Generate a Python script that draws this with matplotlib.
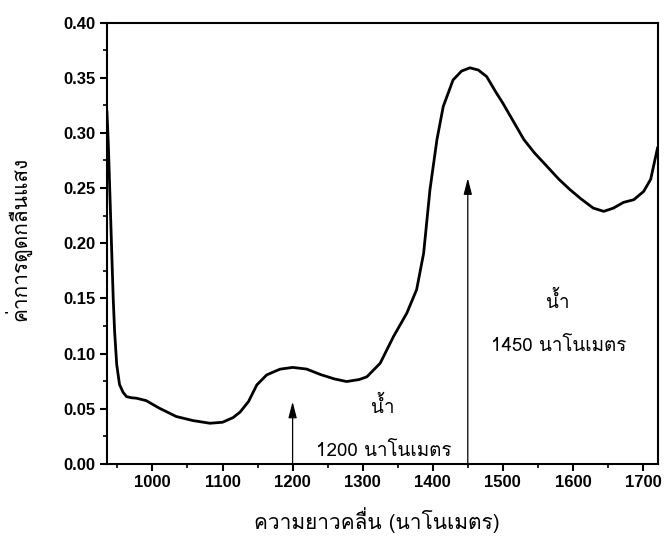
import matplotlib
matplotlib.use('Agg')
import matplotlib.pyplot as plt
from matplotlib.ticker import MultipleLocator

# NIR absorbance spectrum, water bands marked at 1200 and 1450 nm
wavelength = [935, 937, 939, 942, 944, 946, 949, 953, 958, 963, 970, 977, 991,
              1010, 1034, 1058, 1082, 1100, 1115, 1125, 1137, 1149, 1163, 1182,
              1200, 1220, 1240, 1260, 1277, 1295, 1306, 1325, 1344, 1363, 1377,
              1387, 1396, 1406, 1415, 1429, 1441, 1453, 1465, 1477, 1490, 1500,
              1510, 1520, 1530, 1545, 1563, 1580, 1596, 1612, 1629, 1644, 1658,
              1672, 1687, 1701, 1711, 1721]
absorbance = [0.320, 0.290, 0.250, 0.190, 0.150, 0.120, 0.090, 0.072, 0.065,
              0.061, 0.060, 0.0596, 0.0574, 0.0505, 0.043, 0.0393, 0.0369,
              0.0378, 0.042, 0.047, 0.0565, 0.0717, 0.0807, 0.0859, 0.0875,
              0.086, 0.081, 0.077, 0.0747, 0.0765, 0.079, 0.0913, 0.1155,
              0.1367, 0.158, 0.191, 0.2485, 0.294, 0.324, 0.348, 0.356, 0.359,
              0.357, 0.351, 0.337, 0.327, 0.316, 0.305, 0.294, 0.282, 0.2697,
              0.258, 0.2485, 0.240, 0.2319, 0.2289, 0.2319, 0.237, 0.2395,
              0.247, 0.258, 0.287]

band_nm = [1200, 1450]
band_tip = [0.0565, 0.259]
band_label = ['1200 นาโนเมตร', '1450 นาโนเมตร']
band_text_x = [1330, 1580]
band_text_y = [0.012, 0.107]

thai = ['Loma', 'DejaVu Sans']
tickfont = 'Liberation Sans'

fig = plt.figure(figsize=(6.64, 5.37), dpi=100)
ax = fig.add_axes([0.161, 0.136, 0.8295, 0.822])

ax.plot(wavelength, absorbance, color='black', lw=2.0,
        solid_joinstyle='round', solid_capstyle='round', zorder=3)

for nm, tip, lab, tx, ty in zip(band_nm, band_tip, band_label, band_text_x, band_text_y):
    ax.annotate('', xy=(nm, tip), xytext=(nm, 0),
                arrowprops=dict(arrowstyle='-|>,head_length=0.7,head_width=0.18',
                                lw=0.9, color='black', shrinkA=0, shrinkB=0,
                                mutation_scale=14))
    ax.text(tx, ty, lab, ha='center', va='center', fontsize=13.5, family=thai)
    ax.text(tx - 2, ty + 0.040, 'น้ำ', ha='center', va='center', fontsize=13.5, family=thai)

ax.set_xlim(935, 1721)
ax.set_ylim(0, 0.40)
ax.xaxis.set_major_locator(MultipleLocator(100))
ax.xaxis.set_minor_locator(MultipleLocator(50))
ax.yaxis.set_minor_locator(MultipleLocator(0.025))
ax.set_yticks([i * 0.05 for i in range(9)])
ax.set_yticklabels(['%.2f' % (i * 0.05) for i in range(9)])

ax.tick_params(which='major', direction='out', length=5, width=1.5, pad=3,
               top=False, right=False)
ax.tick_params(which='minor', direction='out', length=3, width=1.2,
               top=False, right=False)
for lab in ax.get_xticklabels() + ax.get_yticklabels():
    lab.set_fontfamily(tickfont)
    lab.set_fontweight('bold')
    lab.set_fontsize(12)
for s in ax.spines.values():
    s.set_linewidth(1.5)

ax.set_xlabel('ความยาวคลื่น (นาโนเมตร)', family=thai, fontsize=15)
ax.set_ylabel('ค่าการดูดกลืนแสง', family=thai, fontsize=15)
ax.xaxis.set_label_coords(0.49, -0.098)
ax.yaxis.set_label_coords(-0.136, 0.51)

fig.savefig('out.png', dpi=100)
